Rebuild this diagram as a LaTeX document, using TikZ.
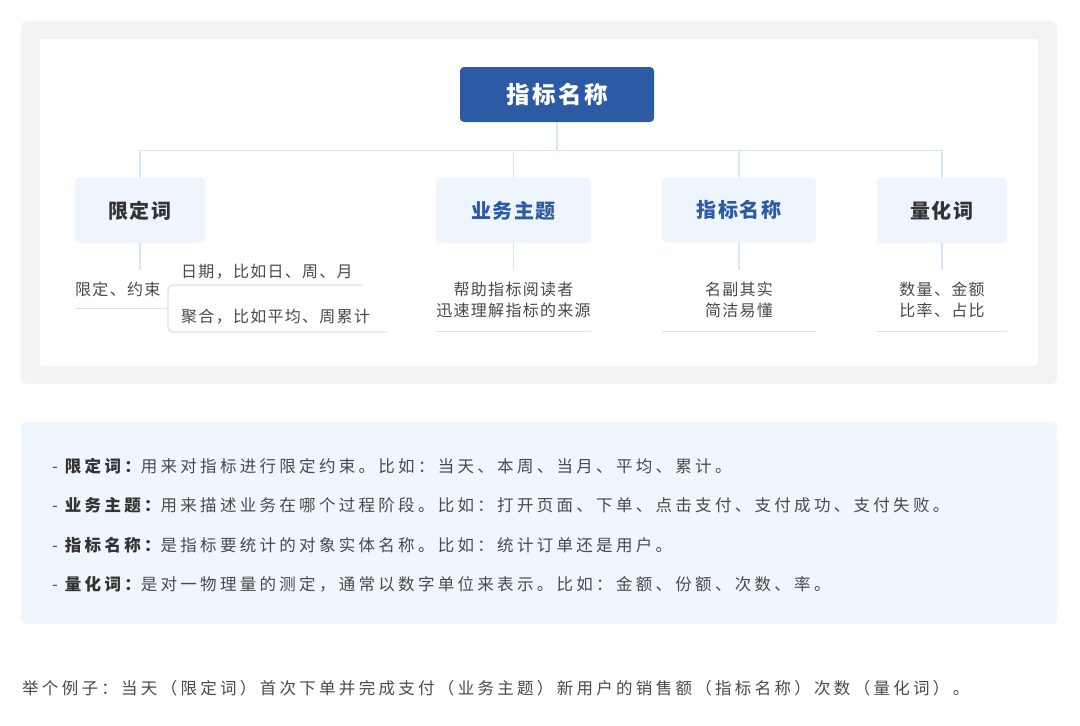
\documentclass[tikz,border=0pt]{standalone}
\usepackage{fontspec}
\setmainfont{Noto Sans CJK SC}
\newfontfamily\fTop{Noto Sans CJK SC}[LetterSpace=10]
\newfontfamily\fHead{Noto Sans CJK SC}[LetterSpace=7]
\newfontfamily\fLeaf{Noto Sans CJK SC}[LetterSpace=8]
\newfontfamily\fDesc{Noto Sans CJK SC}[LetterSpace=20]
\definecolor{panelgray}{HTML}{F2F3F3}
\definecolor{deepblue}{HTML}{2D5AA4}
\definecolor{boxblue}{HTML}{EEF5FD}
\definecolor{descblue}{HTML}{EFF6FD}
\definecolor{connblue}{HTML}{D6E7F7}
\definecolor{ulgray}{HTML}{E0E1E2}
\definecolor{txtdark}{HTML}{333333}
\definecolor{txtmid}{HTML}{4A4A4A}
\begin{document}
\begin{tikzpicture}[x=1pt,y=-1pt,
  topbox/.style={fill=deepblue,rounded corners=4pt,minimum width=194pt,minimum height=55pt,inner sep=0pt,text=white,font=\fTop\fontsize{23.5pt}{26pt}\selectfont\bfseries},
  headbox/.style={fill=boxblue,rounded corners=4pt,minimum height=65pt,inner sep=0pt,font=\fHead\fontsize{20pt}{22pt}\selectfont\bfseries},
  leaf/.style={inner sep=0pt,text=txtmid,font=\fLeaf\fontsize{16pt}{20.5pt}\selectfont,align=center},
  desc/.style={inner sep=0pt,anchor=west,text=txtmid,font=\fDesc\fontsize{16.5pt}{18pt}\selectfont},
  conn/.style={draw=connblue,line width=1.3pt},
  uline/.style={draw=ulgray,line width=1.3pt}
]
\useasboundingbox (0,0) rectangle (1080,726);
\fill[white] (0,0) rectangle (1080,726);
% panels
\fill[panelgray,rounded corners=6pt] (21,21) rectangle (1057,384);
\fill[white,rounded corners=3pt] (40,39) rectangle (1038,366);
\fill[descblue,rounded corners=5pt] (21,422) rectangle (1057,624);

% top node
\node[topbox] (top) at (557,94.5) {指标名称};
% level nodes
\node[headbox,minimum width=130pt,text=txtdark] (q1) at (140,210.5) {限定词};
\node[headbox,minimum width=155pt,text=deepblue] (q2) at (513.5,210.5) {业务主题};
\node[headbox,minimum width=154pt,text=deepblue] (q3) at (739,210) {指标名称};
\node[headbox,minimum width=130pt,text=txtdark] (q4) at (942,210.5) {量化词};

% bus
\coordinate (bus) at (0,150.5);
\draw[conn] (top.south) -- (top.south |- bus);
\draw[conn] (q1.north) -- (q1.north |- bus) -- (q4.north |- bus) -- (q4.north);
\draw[conn] (q2.north) -- (q2.north |- bus);
\draw[conn] (q3.north) -- (q3.north |- bus);

% down stubs
\coordinate (stub) at (0,270);
\foreach \q in {q1,q2,q3,q4}{\draw[conn] (\q.south) -- (\q.south |- stub);}

% leaves of q1
\node[leaf,anchor=west] (l1) at (75,289) {限定、约束};
\node[leaf,anchor=west] (l1a) at (181,271.5) {日期，比如日、周、月};
\node[leaf,anchor=west] (l1b) at (181,317) {聚合，比如平均、周累计};
\coordinate (u1s) at (75,308.5);
\coordinate (u1e) at (168,308.5);
\draw[uline] (u1s) -- (u1e);
\coordinate (bt) at (363,285);
\coordinate (bb) at (387,332);
\draw[uline,rounded corners=5pt] (bt) -- (bt -| u1e) -- (bb -| u1e) -- (bb);

% leaves of q2..q4
\node[leaf] (l2) at (513.5,300) {帮助指标阅读者\\迅速理解指标的来源};
\node[leaf] (l3) at (739,300) {名副其实\\简洁易懂};
\node[leaf] (l4) at (942,300) {数量、金额\\比率、占比};
\coordinate (ul) at (0,331.5);
\draw[uline] (q2.west |- ul) -- (q2.east |- ul);
\draw[uline] (q3.west |- ul) -- (q3.east |- ul);
\draw[uline] (q4.west |- ul) -- (q4.east |- ul);

% description
\node[desc] (d1) at (52,466) {- {\color{txtdark}\bfseries 限定词：}用来对指标进行限定约束。比如：当天、本周、当月、平均、累计。};
\node[desc] (d2) at (52,505.5) {- {\color{txtdark}\bfseries 业务主题：}用来描述业务在哪个过程阶段。比如：打开页面、下单、点击支付、支付成功、支付失败。};
\node[desc] (d3) at (52,545) {- {\color{txtdark}\bfseries 指标名称：}是指标要统计的对象实体名称。比如：统计订单还是用户。};
\node[desc] (d4) at (52,584.5) {- {\color{txtdark}\bfseries 量化词：}是对一物理量的测定，通常以数字单位来表示。比如：金额、份额、次数、率。};

% example
\node[desc] (ex) at (22,688) {举个例子：当天（限定词）首次下单并完成支付（业务主题）新用户的销售额（指标名称）次数（量化词）。};
\end{tikzpicture}
\end{document}
